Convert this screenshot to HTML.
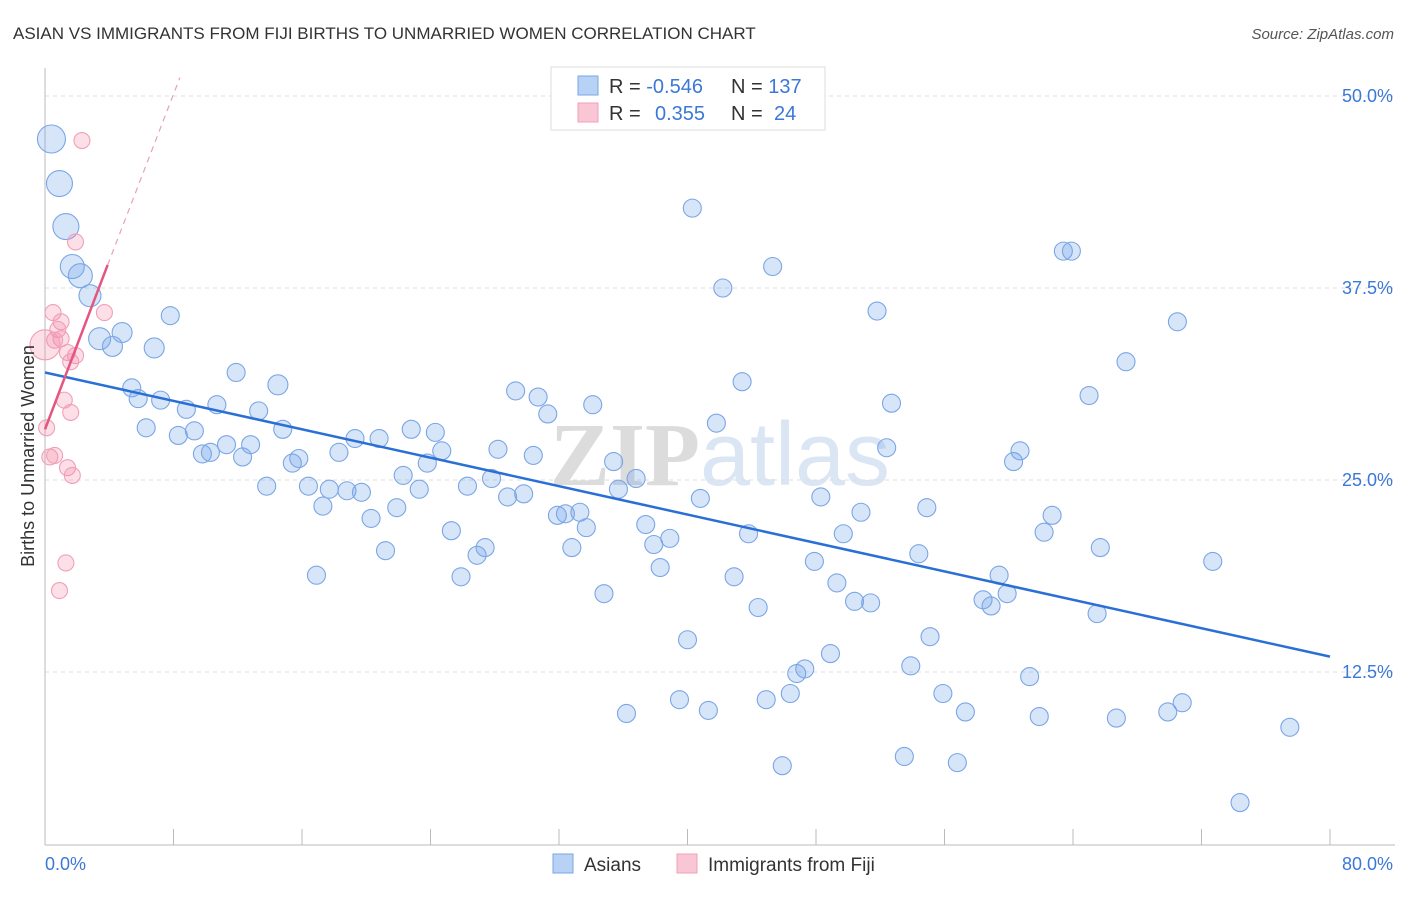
<!DOCTYPE html>
<html><head><meta charset="utf-8"><style>
body{margin:0;background:#fff;font-family:"Liberation Sans",sans-serif;}
svg text{font-family:"Liberation Sans",sans-serif;}
</style></head><body>
<svg id="chart" width="1406" height="892" xmlns="http://www.w3.org/2000/svg">
<text x="13" y="39" font-size="17" fill="#333">ASIAN VS IMMIGRANTS FROM FIJI BIRTHS TO UNMARRIED WOMEN CORRELATION CHART</text>
<text x="1394" y="39" font-size="15" fill="#555" text-anchor="end" font-style="italic">Source: ZipAtlas.com</text>
<text x="720" y="485" font-size="90" fill="#e4e4e4" text-anchor="middle" font-weight="bold"><tspan fill="#dcdcdc" font-family="Liberation Serif">ZIP</tspan><tspan fill="#dbe6f5" font-weight="normal">atlas</tspan></text>
<g id="grid"></g>
<g id="axes"></g>
<g id="pts"></g>
<text transform="translate(34,456) rotate(-90)" font-size="18" fill="#333" text-anchor="middle">Births to Unmarried Women</text>
<g>
<rect x="551" y="67" width="274" height="63" fill="#fff" stroke="#ddd"/>
<rect x="578" y="76" width="20" height="19" fill="#b8d2f5" stroke="#7aa6e6"/>
<rect x="578" y="103" width="20" height="19" fill="#f8c6d5" stroke="#f0a0b8"/>
<text x="609" y="93" font-size="20" fill="#333">R = <tspan fill="#3b78d8">-0.546</tspan></text>
<text x="731" y="93" font-size="20" fill="#333">N = <tspan fill="#3b78d8">137</tspan></text>
<text x="609" y="120" font-size="20" fill="#333">R = <tspan fill="#3b78d8" x="655">0.355</tspan></text>
<text x="731" y="120" font-size="20" fill="#333">N = <tspan fill="#3b78d8" x="774">24</tspan></text>
</g>
<g>
<rect x="553" y="854" width="20" height="19" fill="#b8d2f5" stroke="#7aa6e6"/>
<text x="584" y="871" font-size="19" fill="#333">Asians</text>
<rect x="677" y="854" width="20" height="19" fill="#f8c6d5" stroke="#f0a0b8"/>
<text x="708" y="871" font-size="19" fill="#333">Immigrants from Fiji</text>
</g>
</svg>
<script>
const yTicks=[12.5,25,37.5,50];
const yTickLabels=["12.5%","25.0%","37.5%","50.0%"];
const xTicks=[8,16,24,32,40,48,56,64,72,80];
const asianX=[0.4,0.9,1.3,1.7,2.2,2.8,3.4,4.2,4.8,7.8,6.8,5.4,5.8,7.2,6.3,8.3,9.3,8.8,9.8,10.3,10.7,11.3,11.9,12.3,12.8,13.3,13.8,14.5,14.8,15.4,15.8,16.4,16.9,17.3,17.7,18.8,18.3,19.3,19.7,20.3,20.8,21.2,21.9,22.3,22.8,23.3,23.8,24.3,24.7,25.3,25.9,26.3,26.9,27.4,27.8,28.2,28.8,29.3,29.8,30.4,30.7,31.3,31.9,32.4,32.8,33.3,33.7,34.1,34.8,35.4,35.7,36.2,36.8,37.4,37.9,38.3,38.9,39.5,40.0,40.3,40.8,41.3,41.8,42.2,42.9,43.4,43.8,44.4,44.9,45.3,45.9,46.4,46.8,47.3,47.9,48.3,48.9,49.3,49.7,50.4,50.8,51.4,51.8,52.4,52.7,53.5,53.9,54.4,54.9,55.1,55.9,56.8,57.3,58.4,58.9,59.4,59.9,60.3,60.7,61.3,61.9,62.2,62.7,63.4,63.9,65.0,65.5,65.7,66.7,67.3,69.9,70.5,70.8,72.7,74.4,77.5];
const asianY=[47.2,44.3,41.5,38.9,38.3,37.0,34.2,33.7,34.6,35.7,33.6,31.0,30.3,30.2,28.4,27.9,28.2,29.6,26.7,26.8,29.9,27.3,32.0,26.5,27.3,29.5,24.6,31.2,28.3,26.1,26.4,24.6,18.8,23.3,24.4,24.3,26.8,27.7,24.2,22.5,27.7,20.4,23.2,25.3,28.3,24.4,26.1,28.1,26.9,21.7,18.7,24.6,20.1,20.6,25.1,27.0,23.9,30.8,24.1,26.6,30.4,29.3,22.7,22.8,20.6,22.9,21.9,29.9,17.6,26.2,24.4,9.8,25.1,22.1,20.8,19.3,21.2,10.7,14.6,42.7,23.8,10.0,28.7,37.5,18.7,31.4,21.5,16.7,10.7,38.9,6.4,11.1,12.4,12.7,19.7,23.9,13.7,18.3,21.5,17.1,22.9,17.0,36.0,27.1,30.0,7.0,12.9,20.2,23.2,14.8,11.1,6.6,9.9,17.2,16.8,18.8,17.6,26.2,26.9,12.2,9.6,21.6,22.7,39.9,39.9,30.5,16.3,20.6,9.5,32.7,9.9,35.3,10.5,19.7,4.0,8.9];
const asianSize=[14,13,13,12,12,11,11,10,10,9,10,9,9,9,9,9,9,9,9,9,9,9,9,9,9,9,9,10,9,9,9,9,9,9,9,9,9,9,9,9,9,9,9,9,9,9,9,9,9,9,9,9,9,9,9,9,9,9,9,9,9,9,9,9,9,9,9,9,9,9,9,9,9,9,9,9,9,9,9,9,9,9,9,9,9,9,9,9,9,9,9,9,9,9,9,9,9,9,9,9,9,9,9,9,9,9,9,9,9,9,9,9,9,9,9,9,9,9,9,9,9,9,9,9,9,9,9,9,9,9,9,9,9,9,9,9,9];
const fijiX=[2.3,1.9,3.7,0.5,1.0,0.8,1.0,0.6,0.0,1.4,1.9,1.6,1.2,1.6,0.1,0.3,0.6,1.4,1.7,1.3,0.9];
const fijiY=[47.1,40.5,35.9,35.9,35.3,34.8,34.2,34.1,33.8,33.3,33.1,32.7,30.2,29.4,28.4,26.5,26.6,25.8,25.3,19.6,17.8];
const fijiSize=[8,8,8,8,8,8,8,8,15,8,8,8,8,8,8,8,8,8,8,8,8];
const asianTrend=[[0,32.0],[80,13.5]];
const fijiTrend=[[0,28.3],[3.9,39.0]];
const fijiTrendExt=[[3.9,39.0],[8.4,51.2]];
const X=v=>45+v/80*1285, Y=v=>864-v/50*768;
const NS="http://www.w3.org/2000/svg";
function mk(tag,attrs,parent){const e=document.createElementNS(NS,tag);for(const k in attrs)e.setAttribute(k,attrs[k]);document.getElementById(parent).appendChild(e);return e;}
yTicks.forEach((t,i)=>{
 const l=mk('line',{x1:45,x2:1395,y1:Y(t),y2:Y(t),stroke:'#ddd','stroke-dasharray':'4,4'},'grid');
 
 
 const tx=mk('text',{x:1393,y:Y(t)+6,'font-size':18,fill:'#3b78d8','text-anchor':'end'},'axes');
 tx.textContent=yTickLabels[i];
 
 
});
let a=mk('line',{x1:45,x2:45,y1:68,y2:845,stroke:'#bbb'},'axes');


a=mk('line',{x1:45,x2:1395,y1:845,y2:845,stroke:'#bbb'},'axes');


xTicks.forEach(t=>{const l=mk('line',{x1:X(t),x2:X(t),y1:829,y2:845,stroke:'#bbb'},'axes');
 
 });
let t0=mk('text',{x:45,y:870,'font-size':18,fill:'#3b78d8'},'axes');t0.textContent='0.0%';


let t1=mk('text',{x:1393,y:870,'font-size':18,fill:'#3b78d8','text-anchor':'end'},'axes');t1.textContent='80.0%';


asianX.forEach((x,i)=>{const c=mk('circle',{cx:X(x),cy:Y(asianY[i]),r:asianSize[i],fill:'rgba(110,160,235,0.28)',stroke:'#7aa6e6','stroke-width':1.1},'pts');
 
 });
fijiX.forEach((x,i)=>{const c=mk('circle',{cx:X(x),cy:Y(fijiY[i]),r:fijiSize[i],fill:'rgba(245,140,170,0.28)',stroke:'#f0a0b8','stroke-width':1.1},'pts');
 
 });
let tl=mk('line',{x1:X(asianTrend[0][0]),y1:Y(asianTrend[0][1]),x2:X(asianTrend[1][0]),y2:Y(asianTrend[1][1]),stroke:'#2a6fd6','stroke-width':2.5},'pts');


tl=mk('line',{x1:X(fijiTrend[0][0]),y1:Y(fijiTrend[0][1]),x2:X(fijiTrend[1][0]),y2:Y(fijiTrend[1][1]),stroke:'#e4557f','stroke-width':2.5},'pts');


tl=mk('line',{x1:X(fijiTrendExt[0][0]),y1:Y(fijiTrendExt[0][1]),x2:X(fijiTrendExt[1][0]),y2:Y(fijiTrendExt[1][1]),stroke:'#eaa0b5','stroke-width':1.2,'stroke-dasharray':'6,5'},'pts');


</script>
</body></html>
